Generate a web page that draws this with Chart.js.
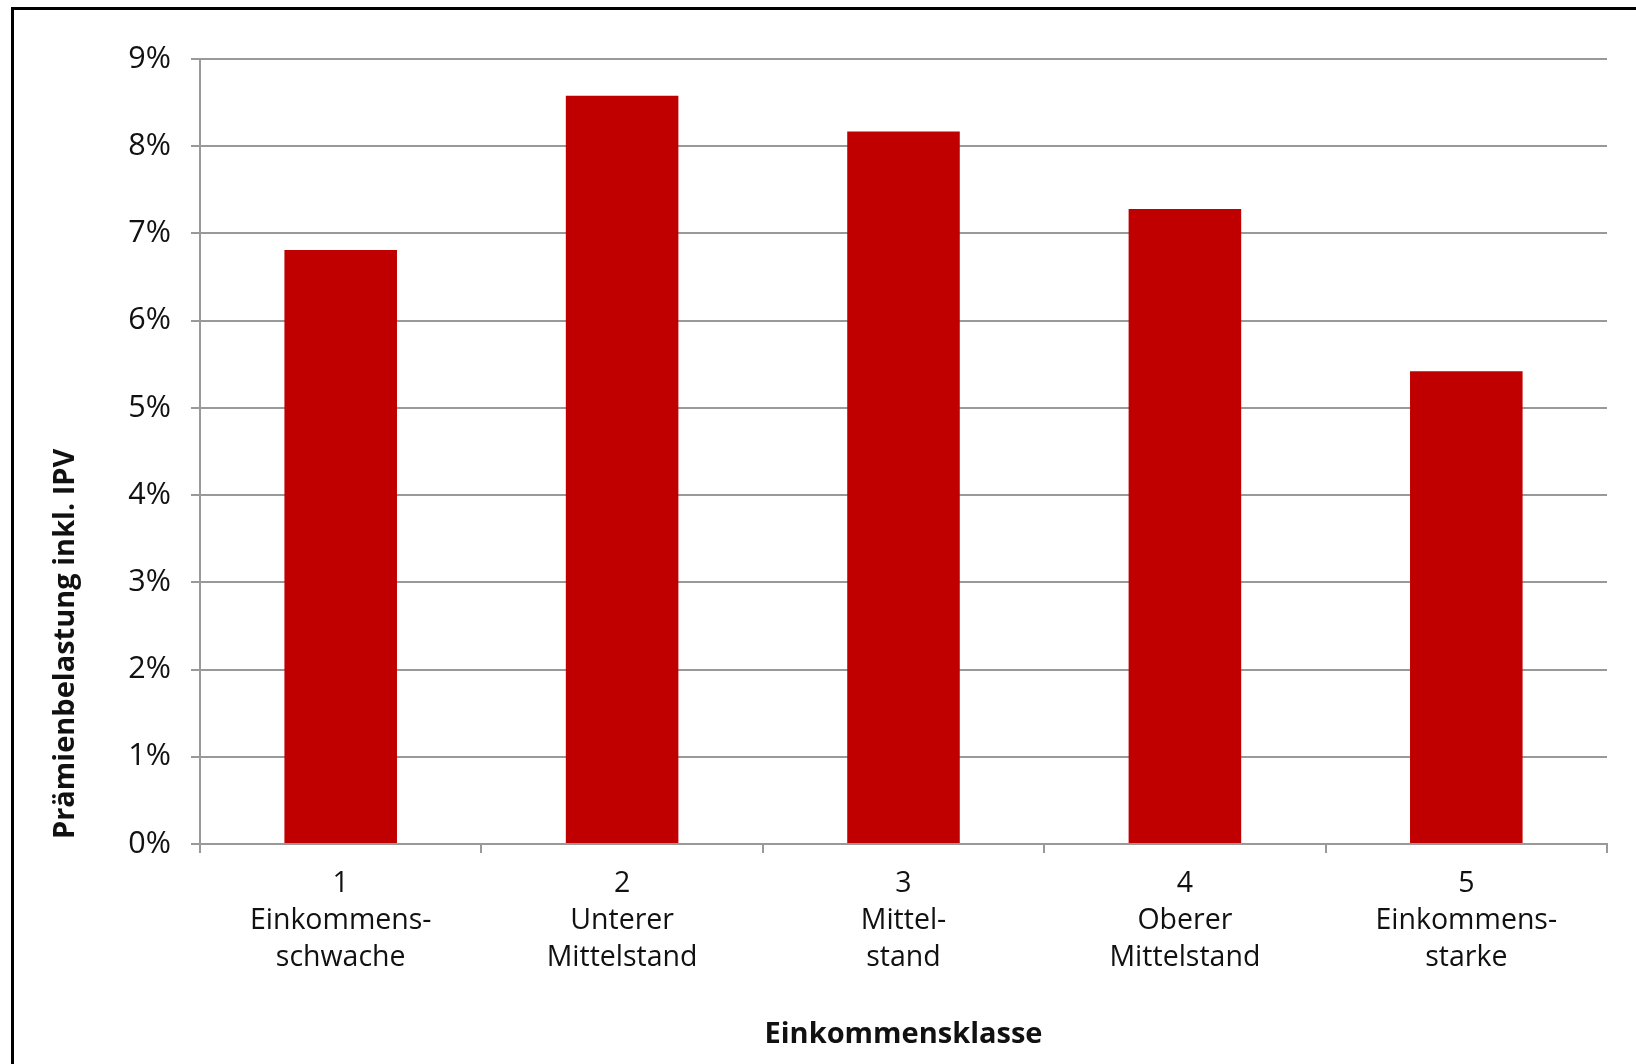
<!DOCTYPE html>
<html lang="de">
<head>
<meta charset="utf-8">
<title>Prämienbelastung nach Einkommensklasse</title>
<script src="https://cdn.jsdelivr.net/npm/chart.js@4/dist/chart.umd.min.js"></script>
<style>
  html, body { margin: 0; padding: 0; background: #fff; }
  #wrap { position: relative; width: 1636px; height: 1064px; overflow: hidden; }
  #frame {
    position: absolute; left: 11px; top: 7px; width: 1700px; height: 1200px;
    border: 3px solid #000; box-sizing: border-box; pointer-events: none;
  }
</style>
</head>
<body>
<div id="wrap">
  <canvas id="chart"></canvas>
  <div id="frame"></div>
</div>
<script>
// Einkommensklassen (Nummer + Bezeichnung, mehrzeilig)
const klassen = [
  ["1", "Einkommens-", "schwache"],
  ["2", "Unterer", "Mittelstand"],
  ["3", "Mittel-", "stand"],
  ["4", "Oberer", "Mittelstand"],
  ["5", "Einkommens-", "starke"]
];
// Prämienbelastung inkl. IPV in %
const belastung = [6.81, 8.58, 8.17, 7.28, 5.42];

const yMin = 0;
const yMax = 9;
const yStep = 1;

const achseY = "Prämienbelastung inkl. IPV";
const achseX = "Einkommensklasse";

const grau = "#999999";
const schrift = "'Open Sans', 'Noto Sans', sans-serif";

// Y-Achsentitel etwas unterhalb der Mitte
const yTitelPlugin = {
  id: "yTitel",
  afterDraw(chart) {
    const c = chart.ctx;
    const area = chart.chartArea;
    c.save();
    c.translate(66, area.top + (area.bottom - area.top) * 0.745);
    c.rotate(-Math.PI / 2);
    c.font = "bold 29px " + schrift;
    c.fillStyle = "#111";
    c.textAlign = "center";
    c.textBaseline = "middle";
    c.fillText(achseY, 0, 0);
    c.restore();
  }
};

const ctx = document.getElementById("chart").getContext("2d");
Chart.defaults.font.family = schrift;

let myChart = new Chart(ctx, {
  type: "bar",
  data: {
    labels: klassen,
    datasets: [
      {
        label: achseY,
        data: belastung,
        backgroundColor: "#c00000",
        borderWidth: 0,
        categoryPercentage: 1,
        barPercentage: 0.4,
      }
    ],
  },
  options: {
    responsive: true,
    maintainAspectRatio: false,
    animation: false,
    layout: {
      padding: { top: 59, right: 29, bottom: 0, left: 0 },
    },
    plugins: {
      legend: { display: false },
      tooltip: { enabled: false },
    },
    scales: {
      x: {
        grid: {
          offset: true,
          drawOnChartArea: false,
          drawTicks: true,
          tickLength: 9,
          color: grau,
          lineWidth: 2,
        },
        border: { color: grau, width: 2 },
        ticks: {
          color: "#111",
          font: { size: 28.5, lineHeight: 1.3 },
          padding: 12,
          maxRotation: 0,
          autoSkip: false,
        },
        title: {
          display: true,
          text: achseX,
          color: "#111",
          font: { size: 29, weight: "bold" },
          padding: { top: 0, bottom: 12 },
        },
        afterFit(scale) { scale.height = 220; },
      },
      y: {
        min: yMin,
        max: yMax,
        ticks: {
          stepSize: yStep,
          color: "#111",
          font: { size: 30.5 },
          padding: 20,
          callback: (v) => v + "%",
        },
        grid: {
          color: grau,
          lineWidth: 2,
          tickLength: 9,
        },
        border: { color: grau, width: 2 },
        afterFit(scale) { scale.width = 200; },
      },
    },
  },
  plugins: [yTitelPlugin],
});
</script>
</body>
</html>
